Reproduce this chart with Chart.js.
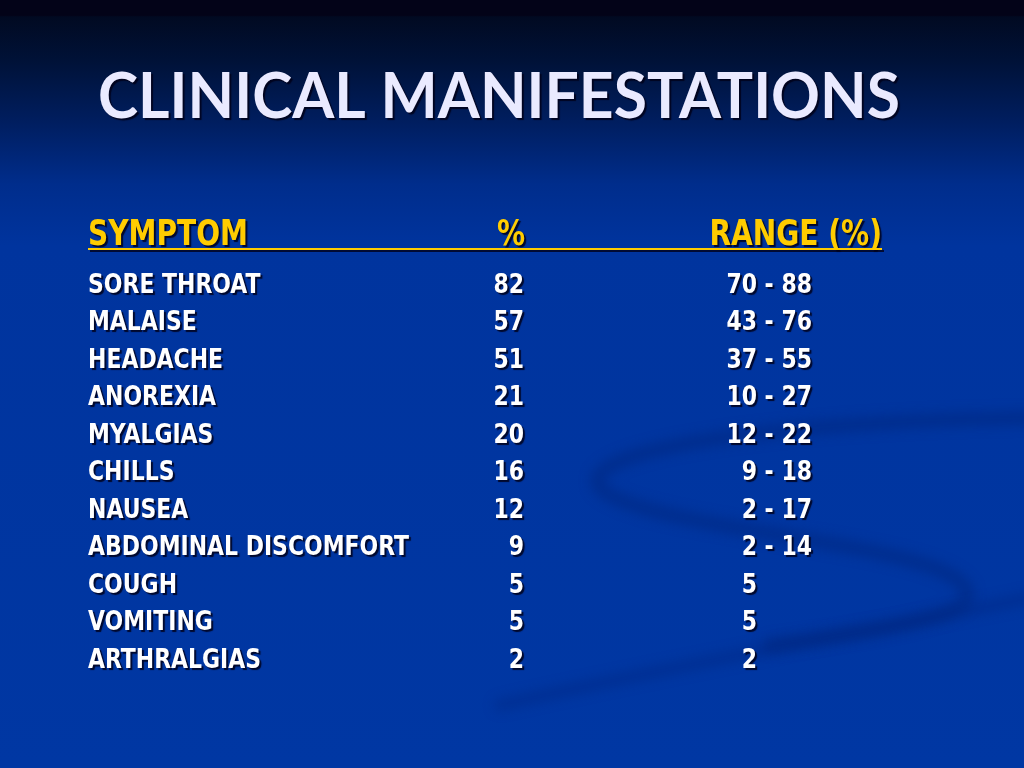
<!DOCTYPE html>
<html><head><meta charset="utf-8">
<script src="https://cdn.jsdelivr.net/npm/chart.js@4.4.1/dist/chart.umd.min.js"></script>
<style>html,body{margin:0;padding:0;background:#0036a2;overflow:hidden}canvas{display:block}</style>
</head><body>
<canvas id="c" width="1024" height="768"></canvas>
<script>
// ---- data ----
const title = 'CLINICAL MANIFESTATIONS';
const headers = ['SYMPTOM', '%', 'RANGE (%)'];
const symptoms = ['SORE THROAT','MALAISE','HEADACHE','ANOREXIA','MYALGIAS','CHILLS','NAUSEA','ABDOMINAL DISCOMFORT','COUGH','VOMITING','ARTHRALGIAS'];
const percent = [82, 57, 51, 21, 20, 16, 12, 9, 5, 5, 2];
const rangeLow = [70, 43, 37, 10, 12, 9, 2, 2, 5, 5, 2];
const rangeHigh = [88, 76, 55, 27, 22, 18, 17, 14, null, null, null];

// ---- layout (pixels on the x scale) ----
const COL = { symptom: 88, pct: 524, low: 757, dash: 769, high: 812 };
const BODY_FONT = "bold 27px 'DejaVu Sans Condensed', 'DejaVu Sans'";
const HEAD_FONT = "bold 35px 'DejaVu Sans Condensed', 'DejaVu Sans'";
const TITLE_FONT = "bold 64px Lato";

function fitScale(ctx, font, text, width) {
  ctx.save(); ctx.font = font; const w = ctx.measureText(text).width; ctx.restore();
  return width / w;
}

const bgPlugin = {
  id: 'bg',
  beforeDraw(chart) {
    const ctx = chart.ctx, W = chart.width, H = chart.height;
    ctx.save();
    const g = ctx.createLinearGradient(0, 0, 0, H);
    g.addColorStop(0, 'rgb(3,3,24)');
    g.addColorStop(0.02, 'rgb(3,3,24)');
    g.addColorStop(0.022, 'rgb(1,10,34)');
    g.addColorStop(0.08, 'rgb(0,18,56)');
    g.addColorStop(0.16, 'rgb(0,30,96)');
    g.addColorStop(0.24, 'rgb(0,45,140)');
    g.addColorStop(0.32, 'rgb(0,52,158)');
    g.addColorStop(1, 'rgb(0,55,163)');
    ctx.fillStyle = g;
    ctx.fillRect(0, 0, W, H);
    // subtle swooshes
    ctx.filter = 'blur(6px)';
    ctx.strokeStyle = 'rgba(0,35,120,0.45)';
    ctx.lineCap = 'round';
    ctx.lineWidth = 14;
    ctx.beginPath();
    ctx.moveTo(1030, 418);
    ctx.bezierCurveTo(820, 420, 570, 445, 600, 488);
    ctx.bezierCurveTo(640, 528, 900, 540, 955, 578);
    ctx.bezierCurveTo(1005, 612, 900, 628, 770, 645);
    ctx.stroke();
    ctx.lineWidth = 12;
    ctx.strokeStyle = 'rgba(0,35,120,0.35)';
    ctx.beginPath();
    ctx.moveTo(500, 705);
    ctx.bezierCurveTo(700, 660, 900, 625, 1030, 598);
    ctx.stroke();
    ctx.restore();
  }
};

function drawText(ctx, text, x, capMid, font, capH, color, align, sx) {
  ctx.save();
  ctx.font = font;
  ctx.textBaseline = 'alphabetic';
  ctx.textAlign = align;
  ctx.translate(x, capMid + capH / 2);
  ctx.scale(sx, 1);
  ctx.shadowColor = 'rgba(0,0,25,0.85)';
  ctx.shadowOffsetX = 2; ctx.shadowOffsetY = 2; ctx.shadowBlur = 1;
  ctx.fillStyle = color;
  ctx.fillText(text, 0, 0);
  ctx.restore();
}

const textPlugin = {
  id: 'tableText',
  afterDatasetsDraw(chart) {
    const ctx = chart.ctx;
    const area = chart.chartArea;
    const bodyScale = fitScale(ctx, BODY_FONT, 'ABDOMINAL DISCOMFORT', 321);
    const headScale = fitScale(ctx, HEAD_FONT, 'SYMPTOM', 160);
    const titleScale = fitScale(ctx, TITLE_FONT, title, 802);
    // title
    drawText(ctx, title, 98, 95, TITLE_FONT, 46, '#eaeaff', 'left', titleScale);
    // header
    const hy = area.top - 51;
    drawText(ctx, headers[0], COL.symptom, hy, HEAD_FONT, 25, '#ffcc00', 'left', headScale);
    drawText(ctx, headers[1], COL.pct + 1, hy, HEAD_FONT, 25, '#ffcc00', 'right', headScale);
    drawText(ctx, headers[2], 882, hy, HEAD_FONT, 25, '#ffcc00', 'right', headScale);
    ctx.save();
    ctx.fillStyle = 'rgba(0,0,25,0.8)';
    ctx.fillRect(90, hy + 18, 794, 2);
    ctx.fillStyle = '#ffcc00';
    ctx.fillRect(88, hy + 16, 794, 2);
    ctx.restore();
    // body cells from dataset points
    chart.data.datasets.forEach((ds, di) => {
      const meta = chart.getDatasetMeta(di);
      meta.data.forEach((pt, i) => {
        const t = ds.cellText[i];
        if (t == null) return;
        drawText(ctx, t, pt.x, pt.y, BODY_FONT, 19, '#ffffff', ds.cellAlign, bodyScale);
      });
    });
  }
};

const rowsWithHigh = symptoms.map((s, i) => rangeHigh[i] != null);

new Chart(document.getElementById('c'), {
  type: 'scatter',
  data: {
    datasets: [
      { label: 'symptom', data: symptoms.map(s => ({ x: COL.symptom, y: s })), cellText: symptoms, cellAlign: 'left' },
      { label: 'percent', data: symptoms.map(s => ({ x: COL.pct, y: s })), cellText: percent.map(String), cellAlign: 'right' },
      { label: 'rangeLow', data: symptoms.map(s => ({ x: COL.low, y: s })), cellText: rangeLow.map(String), cellAlign: 'right' },
      { label: 'rangeDash', data: symptoms.map(s => ({ x: COL.dash, y: s })), cellText: rowsWithHigh.map(h => h ? '-' : null), cellAlign: 'center' },
      { label: 'rangeHigh', data: symptoms.map(s => ({ x: COL.high, y: s })), cellText: rangeHigh.map(v => v == null ? null : String(v)), cellAlign: 'right' }
    ].map(d => Object.assign(d, { pointRadius: 0, pointHoverRadius: 0, showLine: false }))
  },
  options: {
    responsive: false,
    animation: false,
    devicePixelRatio: 1,
    layout: { padding: { top: 283, bottom: 110, left: 0, right: 0 } },
    plugins: { legend: { display: false }, tooltip: { enabled: false } },
    events: [],
    scales: {
      x: { type: 'linear', min: 0, max: 1024, display: false },
      y: { type: 'category', labels: symptoms, display: false, offset: false }
    }
  },
  plugins: [bgPlugin, textPlugin]
});
</script>
</body></html>
